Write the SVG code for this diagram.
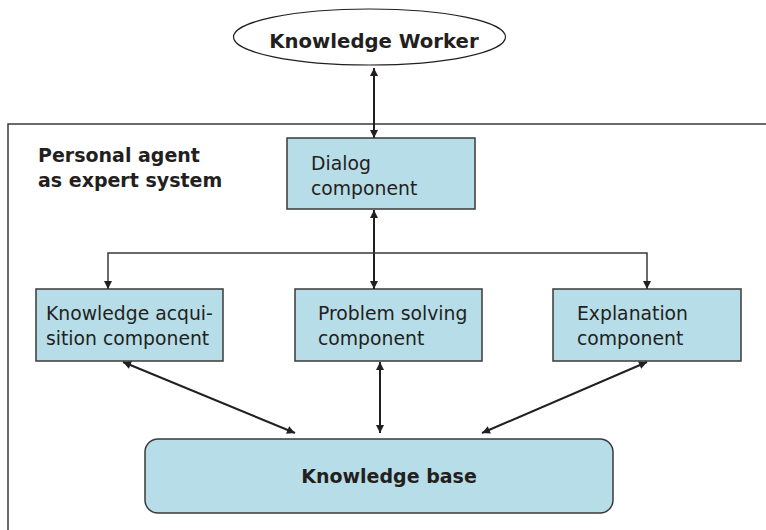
<svg xmlns="http://www.w3.org/2000/svg" width="766" height="530" viewBox="0 0 766 530">
<defs>
<marker id="ah" viewBox="0 0 10 10" refX="10" refY="5" markerWidth="9" markerHeight="8" markerUnits="userSpaceOnUse" orient="auto-start-reverse">
<path d="M0,0 L10,5 L0,10 z" fill="#231f20"/>
</marker>
<style>
.box{fill:#b7dde8;stroke:#3a3a3a;stroke-width:1.5}
.t{font-family:"DejaVu Sans",Verdana,sans-serif;font-size:18.8px;fill:#231f20}
.b{font-family:"DejaVu Sans",Verdana,sans-serif;font-size:19px;font-weight:bold;fill:#231f20}
.c{fill:none;stroke:#231f20;stroke-width:2}
.c1{fill:none;stroke:#3a3a3a;stroke-width:1.5}
</style>
</defs>
<rect width="766" height="530" fill="#ffffff"/>
<g id="frame">
<path class="c1" d="M8,531 L8,124 L767,124"/>
<text class="b" x="38" y="162">Personal agent</text>
<text class="b" x="38" y="187">as expert system</text>
</g>
<g id="worker">
<ellipse cx="369.5" cy="37" rx="136" ry="28" fill="#ffffff" stroke="#231f20" stroke-width="1.2"/>
<text class="b" x="374" y="48" text-anchor="middle" style="font-size:19.7px">Knowledge Worker</text>
</g>
<g id="dialog">
<rect class="box" x="287" y="138" width="188" height="71"/>
<text class="t" x="311" y="170">Dialog</text>
<text class="t" x="311" y="195">component</text>
</g>
<g id="acquisition">
<rect class="box" x="36" y="289" width="187" height="72"/>
<text class="t" x="46" y="320">Knowledge acqui-</text>
<text class="t" x="46" y="345">sition component</text>
</g>
<g id="problem">
<rect class="box" x="295" y="289" width="187" height="72"/>
<text class="t" x="318" y="320">Problem solving</text>
<text class="t" x="318" y="345">component</text>
</g>
<g id="explanation">
<rect class="box" x="553" y="289" width="188" height="72"/>
<text class="t" x="577" y="320">Explanation</text>
<text class="t" x="577" y="345">component</text>
</g>
<g id="kb">
<rect class="box" x="145" y="439" width="468" height="74" rx="13" ry="13"/>
<text class="b" x="389" y="483" text-anchor="middle">Knowledge base</text>
</g>
<g id="connectors">
<line class="c" x1="374" y1="68" x2="374" y2="138" marker-start="url(#ah)" marker-end="url(#ah)"/>
<line class="c" x1="374" y1="210" x2="374" y2="289" marker-start="url(#ah)" marker-end="url(#ah)"/>
<path class="c1" d="M108,289 L108,253 L647,253 L647,289" marker-start="url(#ah)" marker-end="url(#ah)"/>
<line class="c" x1="123" y1="362" x2="295" y2="433" marker-start="url(#ah)" marker-end="url(#ah)"/>
<line class="c" x1="380" y1="362" x2="380" y2="433" marker-start="url(#ah)" marker-end="url(#ah)"/>
<line class="c" x1="647" y1="362" x2="482" y2="433" marker-start="url(#ah)" marker-end="url(#ah)"/>
</g>
</svg>
